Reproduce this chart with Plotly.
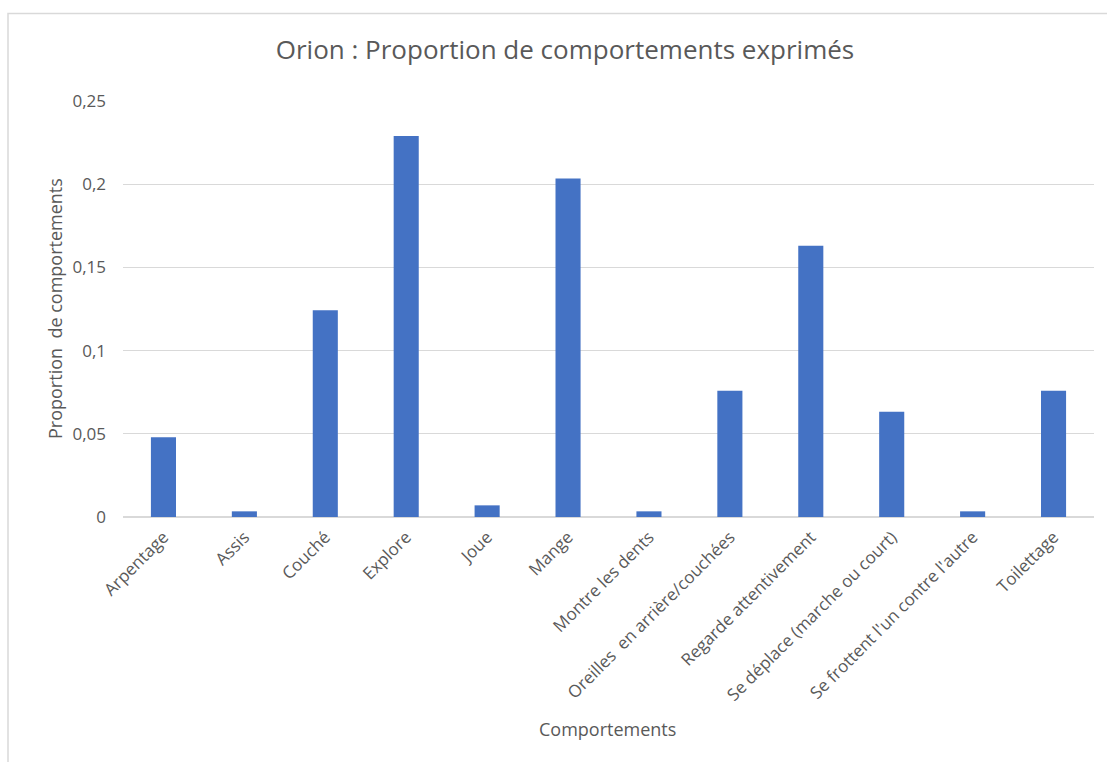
import plotly.graph_objects as go

categories = [
    "Arpentage", "Assis", "Couché", "Explore", "Joue", "Mange",
    "Montre les dents", "Oreilles  en arrière/couchées", "Regarde attentivement",
    "Se déplace (marche ou court)", "Se frottent l'un contre l'autre", "Toilettage",
]
proportions = [0.0480, 0.0034, 0.1242, 0.2290, 0.0070, 0.2034,
               0.0034, 0.0758, 0.1630, 0.0632, 0.0034, 0.0758]
y_ticks = [0, 0.05, 0.1, 0.15, 0.2, 0.25]

TXT = "#595959"
FONT = "Open Sans"

fig = go.Figure(go.Bar(x=categories, y=proportions, marker_color="#4472C4",
                       marker_line_width=0))

W, H = 1107, 762
L, R, T, B = 123, 13, 101, 245
pw, ph = W - L - R, H - T - B

def px(xp):
    return (xp - L) / pw

def py(yp):
    return (H - B - yp) / ph

fig.update_layout(
    width=W, height=H,
    margin=dict(l=L, r=R, t=T, b=B),
    paper_bgcolor="white", plot_bgcolor="white",
    separators=", ",
    bargap=0.69,
    showlegend=False,
    font=dict(family=FONT, color=TXT, size=17),
    title=dict(text="Orion : Proportion de comportements exprimés",
               font=dict(family=FONT, size=26, color=TXT),
               x=565 / W, xanchor="center", xref="container",
               y=1 - 50 / H, yanchor="middle", yref="container"),
    xaxis=dict(tickangle=-45, tickfont=dict(size=17, color=TXT),
               showgrid=False, showline=False, ticks="", ticklabelstandoff=6),
    yaxis=dict(range=[0, 0.25], tickvals=y_ticks, showgrid=True, gridcolor="#d9d9d9",
               gridwidth=1, zeroline=True, zerolinecolor="#d9d9d9", zerolinewidth=1.5,
               showline=False, ticks="", ticklabelstandoff=16,
               tickfont=dict(size=17, color=TXT)),
    annotations=[
        dict(text="Proportion  de comportements", textangle=-90, xref="paper", yref="paper",
             x=px(55), y=py(309), xanchor="center", yanchor="middle", showarrow=False,
             font=dict(size=18, color=TXT, family=FONT)),
        dict(text="Comportements", xref="paper", yref="paper",
             x=px(607), y=py(729), xanchor="center", yanchor="middle", showarrow=False,
             font=dict(size=18, color=TXT, family=FONT)),
    ],
    shapes=[
        dict(type="rect", xref="paper", yref="paper",
             x0=px(8), x1=px(1130), y0=py(800), y1=py(13.5),
             line=dict(color="#d9d9d9", width=1.5), fillcolor="rgba(0,0,0,0)", layer="below"),
    ],
)

fig.write_html("out.html", config={"displayModeBar": False},
               post_script="document.body.style.margin='0';")
